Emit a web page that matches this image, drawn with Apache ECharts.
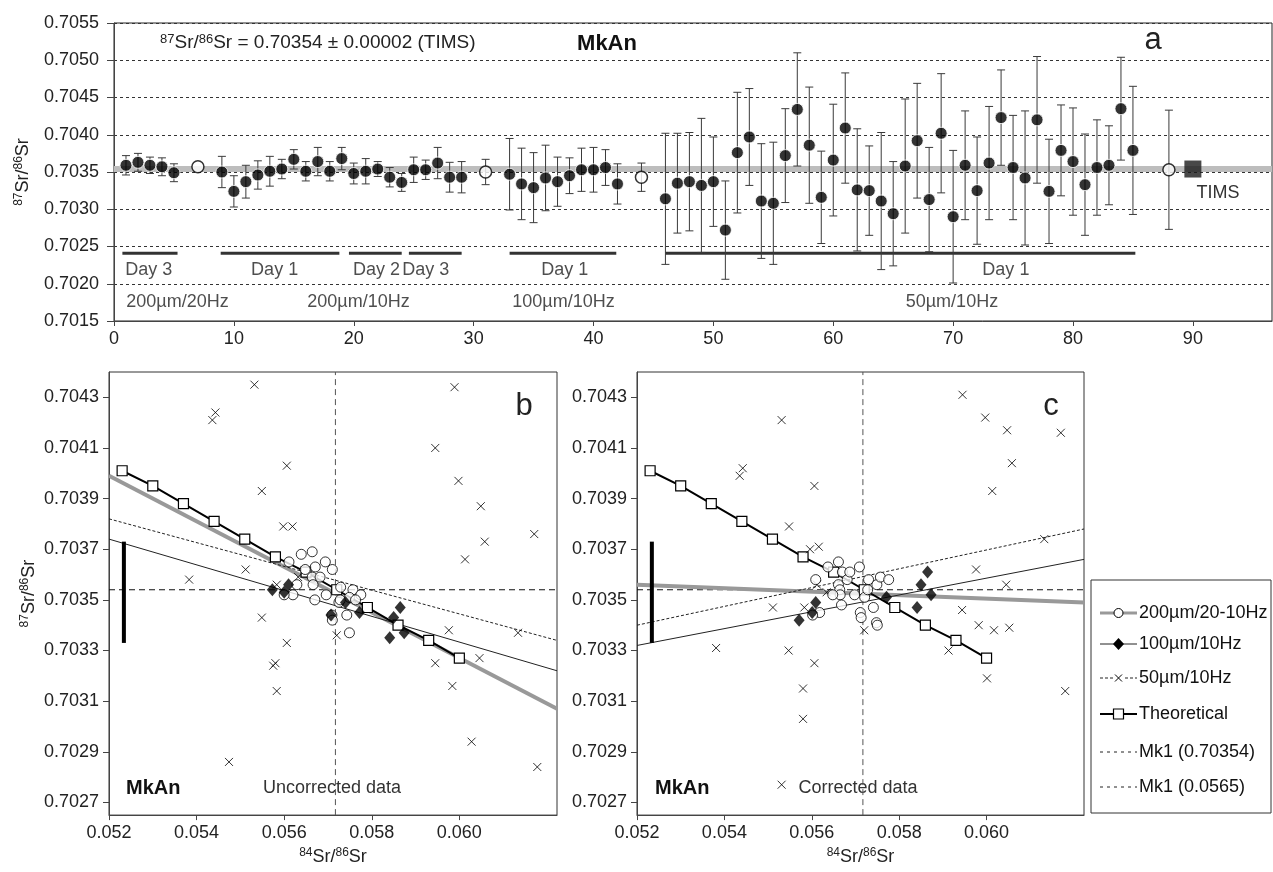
<!DOCTYPE html>
<html><head><meta charset="utf-8">
<script src="https://cdn.jsdelivr.net/npm/echarts@6/dist/echarts.min.js"></script>
<style>html,body{margin:0;padding:0;background:#fff}#c{width:1273px;height:872px}</style>
</head><body><div id="c"></div>
<script>
const FONT = '"Liberation Sans", Arial, Helvetica, sans-serif';
// ---------- Panel a: 87Sr/86Sr by analysis number ----------
const idxA = [1,2,3,4,5, 9,10,11,12,13,14,15,16,17,18,19,20,21,22,23,24,25,26,27,28,29,
  33,34,35,36,37,38,39,40,41,42,
  46,47,48,49,50,51,52,53,54,55,56,57,58,59,60,61,62,63,64,65,66,67,68,69,70,71,72,73,74,75,76,77,78,79,80,81,82,83,84,85];
const valA = [0.70359,0.70363,0.70359,0.70357,0.70349,
  0.70350,0.70324,0.70337,0.70346,0.70351,0.70354,0.70367,0.70351,0.70364,0.70351,0.70368,0.70348,0.70351,0.70354,0.70343,0.70336,0.70353,0.70353,0.70362,0.70343,0.70343,
  0.70347,0.70334,0.70329,0.70342,0.70337,0.70345,0.70353,0.70353,0.70356,0.70334,
  0.70314,0.70335,0.70337,0.70332,0.70337,0.70272,0.70376,0.70397,0.70311,0.70308,0.70372,0.70434,0.70386,0.70316,0.70366,0.70409,0.70326,0.70325,0.70311,0.70294,
  0.70358,0.70392,0.70313,0.70402,0.70290,0.70359,0.70325,0.70362,0.70423,0.70356,0.70342,0.70420,0.70324,0.70379,0.70364,0.70333,0.70356,0.70359,0.70435,0.70379];
const errA = [0.00013,0.00012,0.00011,0.00012,0.00012,
  0.00021,0.00021,0.00022,0.00019,0.00020,0.00013,0.00013,0.00013,0.00019,0.00013,0.00015,0.00014,0.00017,0.00010,0.00013,0.00012,0.00017,0.00013,0.00021,0.00020,0.00021,
  0.00048,0.00048,0.00047,0.00044,0.00033,0.00024,0.00029,0.00030,0.00024,0.00027,
  0.00088,0.00067,0.00066,0.00090,0.00060,0.00066,0.00081,0.00065,0.00077,0.00082,0.00063,0.00076,0.00078,0.00062,0.00075,0.00074,0.00082,0.00060,0.00092,0.00070,
  0.00090,0.00077,0.00070,0.00080,0.00089,0.00073,0.00072,0.00076,0.00064,0.00070,0.00090,0.00085,0.00070,0.00061,0.00072,0.00068,0.00064,0.00053,0.00069,0.00086];
const idxOpen = [7, 31, 44, 88];
const valOpen = [0.70357, 0.70350, 0.70343, 0.70353];
const errOpen = [0, 0.00017, 0.00019, 0.00080];
const timsX = [90];
const timsVal = [0.70354];
const refSr = 0.70354;
const dayStart = [0.7, 8.9, 19.6, 24.6, 33, 46];
const dayEnd = [5.3, 18.8, 24.0, 29.0, 41.9, 85.2];
const dayLevel = 0.70241;
const dayLabels = ['Day 3', 'Day 1', 'Day 2', 'Day 3', 'Day 1', 'Day 1'];
const dayLabelX = [2.9, 13.4, 21.9, 26.0, 37.6, 74.4];
const dayLabelY = 0.70218;
const setupLabels = ['200µm/20Hz', '200µm/10Hz', '100µm/10Hz', '50µm/10Hz'];
const setupLabelX = [5.3, 20.4, 37.5, 69.9];
const setupLabelY = 0.70175;
const aYTicks = [0.7015,0.7020,0.7025,0.7030,0.7035,0.7040,0.7045,0.7050,0.7055];
const aXTicks = [0,10,20,30,40,50,60,70,80,90];

// ---------- Panels b and c: 87Sr/86Sr vs 84Sr/86Sr ----------
const theoX = [0.0523,0.0530,0.0537,0.0544,0.0551,0.0558,0.0565,0.0572,0.0579,0.0586,0.0593,0.0600];
const theoY = [0.70401,0.70395,0.70388,0.70381,0.70374,0.70367,0.70361,0.70354,0.70347,0.70340,0.70334,0.70327];
const mk1Sr87 = 0.70354;
const mk1LineX = 0.05717;
const bX = [0.052, 0.06223];
const bY = [0.70265, 0.7044];
const bYTicks = [0.7027,0.7029,0.7031,0.7033,0.7035,0.7037,0.7039,0.7041,0.7043];
const bXTicks = [0.052,0.054,0.056,0.058,0.060];
const errBarX = 0.05234;
const errBarY = [0.70333, 0.70373];

// uncorrected (b)
const circB = [[0.05639,0.70368],[0.05664,0.70369],[0.05611,0.70365],[0.05671,0.70363],[0.05710,0.70362],[0.05664,0.70359],[0.05682,0.70359],[0.05666,0.70356],[0.05620,0.70352],[0.05600,0.70352],[0.05670,0.70350],[0.05729,0.70355],[0.05757,0.70354],[0.05749,0.70351],[0.05775,0.70352],[0.05725,0.70349],[0.05743,0.70344],[0.05709,0.70344],[0.05749,0.70337],[0.05710,0.70342],[0.05648,0.70362],[0.05629,0.70356],[0.05694,0.70365],[0.05696,0.70352],[0.05763,0.70350],[0.05728,0.70350]];
const diamB = [[0.05573,0.70354],[0.05600,0.70353],[0.05610,0.70356],[0.05772,0.70345],[0.05841,0.70335],[0.05850,0.70343],[0.05865,0.70347],[0.05874,0.70337],[0.05707,0.70344],[0.05740,0.70349]];
const crossB = [[0.05532,0.70435],[0.05436,0.70421],[0.05443,0.70424],[0.05606,0.70403],[0.05989,0.70434],[0.05945,0.70410],[0.05549,0.70393],[0.05598,0.70379],[0.05619,0.70379],[0.05512,0.70362],[0.05383,0.70358],[0.05583,0.70356],[0.05549,0.70343],[0.05606,0.70333],[0.05580,0.70325],[0.05575,0.70324],[0.05583,0.70314],[0.05720,0.70336],[0.05998,0.70397],[0.06049,0.70387],[0.06171,0.70376],[0.06058,0.70373],[0.06013,0.70366],[0.05976,0.70338],[0.06134,0.70337],[0.05945,0.70325],[0.06046,0.70327],[0.05984,0.70316],[0.05474,0.70286],[0.06028,0.70294],[0.06178,0.70284],[0.05632,0.70359]];
const regB200 = [0.70399, 0.70307];
const regB100 = [0.70374, 0.70322];
const regB50 = [0.70382, 0.70334];

// corrected (c)
const circC = [[0.05637,0.70363],[0.05661,0.70365],[0.05670,0.70361],[0.05609,0.70358],[0.05661,0.70356],[0.05681,0.70358],[0.05664,0.70354],[0.05665,0.70352],[0.05709,0.70363],[0.05730,0.70358],[0.05749,0.70356],[0.05757,0.70359],[0.05776,0.70358],[0.05721,0.70351],[0.05741,0.70347],[0.05668,0.70348],[0.05618,0.70345],[0.05602,0.70344],[0.05711,0.70345],[0.05713,0.70343],[0.05748,0.70341],[0.05750,0.70340],[0.05728,0.70354],[0.05687,0.70361],[0.05648,0.70352],[0.05698,0.70352]];
const diamC = [[0.05571,0.70342],[0.05601,0.70345],[0.05609,0.70349],[0.05771,0.70351],[0.05865,0.70361],[0.05850,0.70356],[0.05873,0.70352],[0.05841,0.70347]];
const crossC = [[0.05945,0.70431],[0.05531,0.70421],[0.05997,0.70422],[0.06047,0.70417],[0.06170,0.70416],[0.06058,0.70404],[0.05442,0.70402],[0.05435,0.70399],[0.05606,0.70395],[0.06013,0.70393],[0.05548,0.70379],[0.06132,0.70374],[0.05596,0.70370],[0.05616,0.70371],[0.05976,0.70362],[0.06045,0.70356],[0.05634,0.70353],[0.05612,0.70356],[0.05511,0.70347],[0.05583,0.70347],[0.05944,0.70346],[0.05720,0.70338],[0.05982,0.70340],[0.06017,0.70338],[0.06052,0.70339],[0.05381,0.70331],[0.05547,0.70330],[0.05606,0.70325],[0.05913,0.70330],[0.05580,0.70315],[0.06001,0.70319],[0.06180,0.70314],[0.05580,0.70303],[0.05531,0.70277]];
const regC200 = [0.70356, 0.70349];
const regC100 = [0.70332, 0.70366];
const regC50 = [0.70340, 0.70378];

const legendNames = ['200µm/20-10Hz','100µm/10Hz','50µm/10Hz','Theoretical','Mk1 (0.70354)','Mk1 (0.0565)'];

// ---------- build ----------
const chart = echarts.init(document.getElementById('c'), null, {renderer:'canvas'});
const TXT = '#222';
const AX = '#444';
const supRich = {s:{fontSize:12, lineHeight:12, padding:[0,0,8,0], fontFamily:FONT, color:TXT}, n:{fontSize:18, lineHeight:20, fontFamily:FONT, color:TXT}};
const srName = '{s|87}{n|Sr/}{s|86}{n|Sr}';
const sr84Name = '{s|84}{n|Sr/}{s|86}{n|Sr}';

function errBarSeries(xs, vs, es, xi, yi){
  return {type:'custom', xAxisIndex:xi, yAxisIndex:yi, z:3, silent:true,
    data: xs.map((x,i)=>[x, vs[i]-es[i], vs[i]+es[i]]).filter(d=>d[2]>d[1]),
    encode:{x:0, y:[1,2]},
    renderItem(params, api){
      const x = api.value(0);
      const lo = api.coord([x, api.value(1)]);
      const hi = api.coord([x, api.value(2)]);
      const w = 4, st = {stroke:'#3a3a3a', lineWidth:1};
      return {type:'group', children:[
        {type:'line', shape:{x1:lo[0],y1:lo[1],x2:hi[0],y2:hi[1]}, style:st},
        {type:'line', shape:{x1:lo[0]-w,y1:lo[1],x2:lo[0]+w,y2:lo[1]}, style:st},
        {type:'line', shape:{x1:hi[0]-w,y1:hi[1],x2:hi[0]+w,y2:hi[1]}, style:st}
      ]};
    }};
}
function textSeries(xs, y, labels, xi, yi, size){
  return {type:'scatter', xAxisIndex:xi, yAxisIndex:yi, symbolSize:1, silent:true, z:5,
    itemStyle:{color:'rgba(0,0,0,0)'},
    data: xs.map((x,i)=>({value:[x,y], name:labels[i]})),
    label:{show:true, position:'inside', formatter:'{b}', fontSize:size, fontFamily:FONT, color:TXT}};
}
function lineSeg(xi, yi, pts, style, z){
  return {type:'line', xAxisIndex:xi, yAxisIndex:yi, data:pts, symbol:'none', silent:true, z:z||2,
    lineStyle:style};
}
const crossPath = 'path://M0,0L10,10M10,0L0,10';

function xyPanel(xi, yi, circ, diam, cross, r200, r100, r50){
  return [
    lineSeg(xi, yi, [[bX[0], mk1Sr87],[bX[1], mk1Sr87]], {color:'#111', width:1, type:[6,4]}, 1),
    lineSeg(xi, yi, [[mk1LineX, bY[0]],[mk1LineX, bY[1]]], {color:'#555', width:1, type:[6,4]}, 1),
    lineSeg(xi, yi, [[bX[0], r200[0]],[bX[1], r200[1]]], {color:'#999', width:4}, 2),
    lineSeg(xi, yi, [[bX[0], r100[0]],[bX[1], r100[1]]], {color:'#222', width:1}, 2),
    lineSeg(xi, yi, [[bX[0], r50[0]],[bX[1], r50[1]]], {color:'#222', width:1, type:[3,2]}, 2),
    lineSeg(xi, yi, [[errBarX, errBarY[0]],[errBarX, errBarY[1]]], {color:'#000', width:4}, 2),
    {type:'line', xAxisIndex:xi, yAxisIndex:yi, data: theoX.map((x,i)=>[x, theoY[i]]), z:3,
      symbol:'rect', symbolSize:10, showSymbol:true, lineStyle:{color:'#000', width:2},
      itemStyle:{color:'#fff', borderColor:'#000', borderWidth:1.2}},
    {type:'scatter', xAxisIndex:xi, yAxisIndex:yi, data:cross, symbol:crossPath, symbolSize:8, z:4,
      itemStyle:{color:'rgba(0,0,0,0)', borderColor:'#000', borderWidth:1}},
    {type:'scatter', xAxisIndex:xi, yAxisIndex:yi, data:circ, symbol:'circle', symbolSize:10, z:4,
      itemStyle:{color:'#fff', borderColor:'#000', borderWidth:1}},
    {type:'scatter', xAxisIndex:xi, yAxisIndex:yi, data:diam, symbol:'diamond', symbolSize:[11,13], z:5,
      itemStyle:{color:'#000'}}
  ];
}

const series = [
  // panel a
  lineSeg(0, 0, [[0, refSr],[96.6, refSr]], {color:'#bdbdbd', width:6}, 1),
  {type:'custom', xAxisIndex:0, yAxisIndex:0, silent:true, z:2,
    data: dayStart.map((s,i)=>[s, dayEnd[i], dayLevel]), encode:{x:[0,1], y:2},
    renderItem(params, api){
      const a = api.coord([api.value(0), api.value(2)]);
      const b = api.coord([api.value(1), api.value(2)]);
      return {type:'line', shape:{x1:a[0],y1:a[1],x2:b[0],y2:b[1]}, style:{stroke:'#333', lineWidth:3}};
    }},
  errBarSeries(idxA, valA, errA, 0, 0),
  errBarSeries(idxOpen, valOpen, errOpen, 0, 0),
  {type:'scatter', xAxisIndex:0, yAxisIndex:0, z:4, data: idxA.map((x,i)=>[x, valA[i]]),
    symbol:'circle', symbolSize:12, itemStyle:{color:'#000', borderColor:'#fff', borderWidth:1}},
  {type:'scatter', xAxisIndex:0, yAxisIndex:0, z:4, data: idxOpen.map((x,i)=>[x, valOpen[i]]),
    symbol:'circle', symbolSize:12, itemStyle:{color:'#fff', borderColor:'#000', borderWidth:1.5}},
  {type:'scatter', xAxisIndex:0, yAxisIndex:0, z:4, data: timsX.map((x,i)=>[x, timsVal[i]]),
    symbol:'rect', symbolSize:17, itemStyle:{color:'#1a1a1a'}},
  textSeries(dayLabelX, dayLabelY, dayLabels, 0, 0, 18),
  textSeries(setupLabelX, setupLabelY, setupLabels, 0, 0, 18),
  ...xyPanel(1, 1, circB, diamB, crossB, regB200, regB100, regB50),
  ...xyPanel(2, 2, circC, diamC, crossC, regC200, regC100, regC50)
];

function yAxisXY(gi, withName){
  return {type:'value', gridIndex:gi, min:bY[0], max:bY[1],
    axisLine:{show:true, lineStyle:{color:AX}},
    axisTick:{show:true, length:6, lineStyle:{color:AX}, customValues:bYTicks},
    axisLabel:{customValues:bYTicks, formatter:v=>v.toFixed(4), fontSize:18, fontFamily:FONT, color:TXT, margin:10},
    splitLine:{show:false},
    name: withName ? srName : '', nameLocation:'middle', nameGap:70, nameRotate:90,
    nameTextStyle:{rich:supRich}};
}
function xAxisXY(gi){
  return {type:'value', gridIndex:gi, min:bX[0], max:bX[1],
    axisLine:{show:true, lineStyle:{color:AX}},
    axisTick:{show:true, length:5, lineStyle:{color:AX}, customValues:bXTicks},
    axisLabel:{customValues:bXTicks, formatter:v=>v.toFixed(3), fontSize:18, fontFamily:FONT, color:TXT, margin:9},
    splitLine:{show:false},
    name: sr84Name, nameLocation:'middle', nameGap:30, nameTextStyle:{rich:supRich}};
}

const legendRowsY = [613, 644, 678, 714, 752, 787];
const lgX0 = 1100, lgX1 = 1137, lgT = 1139, lgC = 1118.5;
const ly = legendRowsY;
const graphic = [
  {type:'text', x:160, y:43, style:{text:'{s|87}{n|Sr/}{s|86}{n|Sr = 0.70354 ± 0.00002 (TIMS)}', verticalAlign:'middle',
    rich:{s:{fontSize:13, lineHeight:13, padding:[0,0,8,0], fontFamily:FONT, fill:TXT}, n:{fontSize:19, lineHeight:21, fontFamily:FONT, fill:TXT}}}},
  {type:'text', x:607, y:44, style:{text:'MkAn', font:'bold 22px '+FONT, fill:'#111', align:'center', verticalAlign:'middle'}},
  {type:'text', x:1153, y:40, style:{text:'a', font:'31px '+FONT, fill:'#222', align:'center', verticalAlign:'middle'}},
  {type:'text', x:1218, y:193, style:{text:'TIMS', font:'18px '+FONT, fill:'#333', align:'center', verticalAlign:'middle'}},
  {type:'text', x:524, y:406, style:{text:'b', font:'31px '+FONT, fill:'#222', align:'center', verticalAlign:'middle'}},
  {type:'text', x:1051, y:406, style:{text:'c', font:'31px '+FONT, fill:'#222', align:'center', verticalAlign:'middle'}},
  {type:'text', x:126, y:788, style:{text:'MkAn', font:'bold 20px '+FONT, fill:'#111', align:'left', verticalAlign:'middle'}},
  {type:'text', x:332, y:788, style:{text:'Uncorrected data', font:'18px '+FONT, fill:'#333', align:'center', verticalAlign:'middle'}},
  {type:'text', x:655, y:788, style:{text:'MkAn', font:'bold 20px '+FONT, fill:'#111', align:'left', verticalAlign:'middle'}},
  {type:'text', x:858, y:788, style:{text:'Corrected data', font:'18px '+FONT, fill:'#333', align:'center', verticalAlign:'middle'}},
  // legend box
  {type:'rect', shape:{x:1091, y:580, width:180, height:233}, style:{fill:'#fff', stroke:'#333', lineWidth:1}, z:10},
  {type:'line', shape:{x1:lgX0,y1:ly[0],x2:lgX1,y2:ly[0]}, style:{stroke:'#999', lineWidth:3}, z:11},
  {type:'circle', shape:{cx:lgC, cy:ly[0], r:4.5}, style:{fill:'#fff', stroke:'#000', lineWidth:1}, z:12},
  {type:'line', shape:{x1:lgX0,y1:ly[1],x2:lgX1,y2:ly[1]}, style:{stroke:'#222', lineWidth:1}, z:11},
  {type:'polygon', shape:{points:[[lgC,ly[1]-6],[lgC+5.5,ly[1]],[lgC,ly[1]+6],[lgC-5.5,ly[1]]]}, style:{fill:'#000'}, z:12},
  {type:'line', shape:{x1:lgX0,y1:ly[2],x2:lgX1,y2:ly[2]}, style:{stroke:'#222', lineWidth:1, lineDash:[3,2]}, z:11},
  {type:'rect', shape:{x:lgC-4.5, y:ly[2]-4, width:9, height:8}, style:{fill:'#fff'}, z:11},
  {type:'line', shape:{x1:lgC-3.5,y1:ly[2]-3.5,x2:lgC+3.5,y2:ly[2]+3.5}, style:{stroke:'#000', lineWidth:1}, z:12},
  {type:'line', shape:{x1:lgC+3.5,y1:ly[2]-3.5,x2:lgC-3.5,y2:ly[2]+3.5}, style:{stroke:'#000', lineWidth:1}, z:12},
  {type:'line', shape:{x1:lgX0,y1:ly[3],x2:lgX1,y2:ly[3]}, style:{stroke:'#000', lineWidth:2}, z:11},
  {type:'rect', shape:{x:lgC-5, y:ly[3]-5, width:10, height:10}, style:{fill:'#fff', stroke:'#000', lineWidth:1.2}, z:12},
  {type:'line', shape:{x1:lgX0,y1:ly[4],x2:lgX1,y2:ly[4]}, style:{stroke:'#222', lineWidth:1, lineDash:[3,4]}, z:11},
  {type:'line', shape:{x1:lgX0,y1:ly[5],x2:lgX1,y2:ly[5]}, style:{stroke:'#222', lineWidth:1, lineDash:[3,4]}, z:11}
].concat(legendNames.map((t,i)=>({type:'text', x:lgT, y:ly[i], z:12,
    style:{text:t, font:'18px '+FONT, fill:'#111', align:'left', verticalAlign:'middle'}})));

chart.setOption({
  animation:false,
  backgroundColor:'#fff',
  textStyle:{fontFamily:FONT},
  grid:[
    {left:114, top:23, width:1158, height:298, show:true, borderColor:'#222', borderWidth:1, backgroundColor:'transparent'},
    {left:109, top:372, width:448, height:451, show:true, borderColor:'#333', borderWidth:1},
    {left:637, top:372, width:447, height:451, show:true, borderColor:'#333', borderWidth:1}
  ],
  xAxis:[
    {type:'value', gridIndex:0, min:0, max:96.6,
      axisLine:{show:true, lineStyle:{color:AX}},
      axisTick:{show:true, length:5, lineStyle:{color:AX}, customValues:aXTicks},
      axisLabel:{customValues:aXTicks, fontSize:18, fontFamily:FONT, color:TXT, margin:9},
      splitLine:{show:false}},
    xAxisXY(1), xAxisXY(2)
  ],
  yAxis:[
    {type:'value', gridIndex:0, min:0.7015, max:0.7055,
      axisLine:{show:true, lineStyle:{color:AX}},
      axisTick:{show:true, length:7, lineStyle:{color:AX}, customValues:aYTicks},
      axisLabel:{customValues:aYTicks, formatter:v=>v.toFixed(4), fontSize:18, fontFamily:FONT, color:TXT, margin:15},
      splitLine:{show:true, lineStyle:{color:'#333', width:1, type:[3,3]}},
      name: srName, nameLocation:'middle', nameGap:65, nameRotate:90, nameTextStyle:{rich:supRich}},
    yAxisXY(1, true), yAxisXY(2, false)
  ],
  series: series,
  graphic: graphic
});
</script></body></html>
